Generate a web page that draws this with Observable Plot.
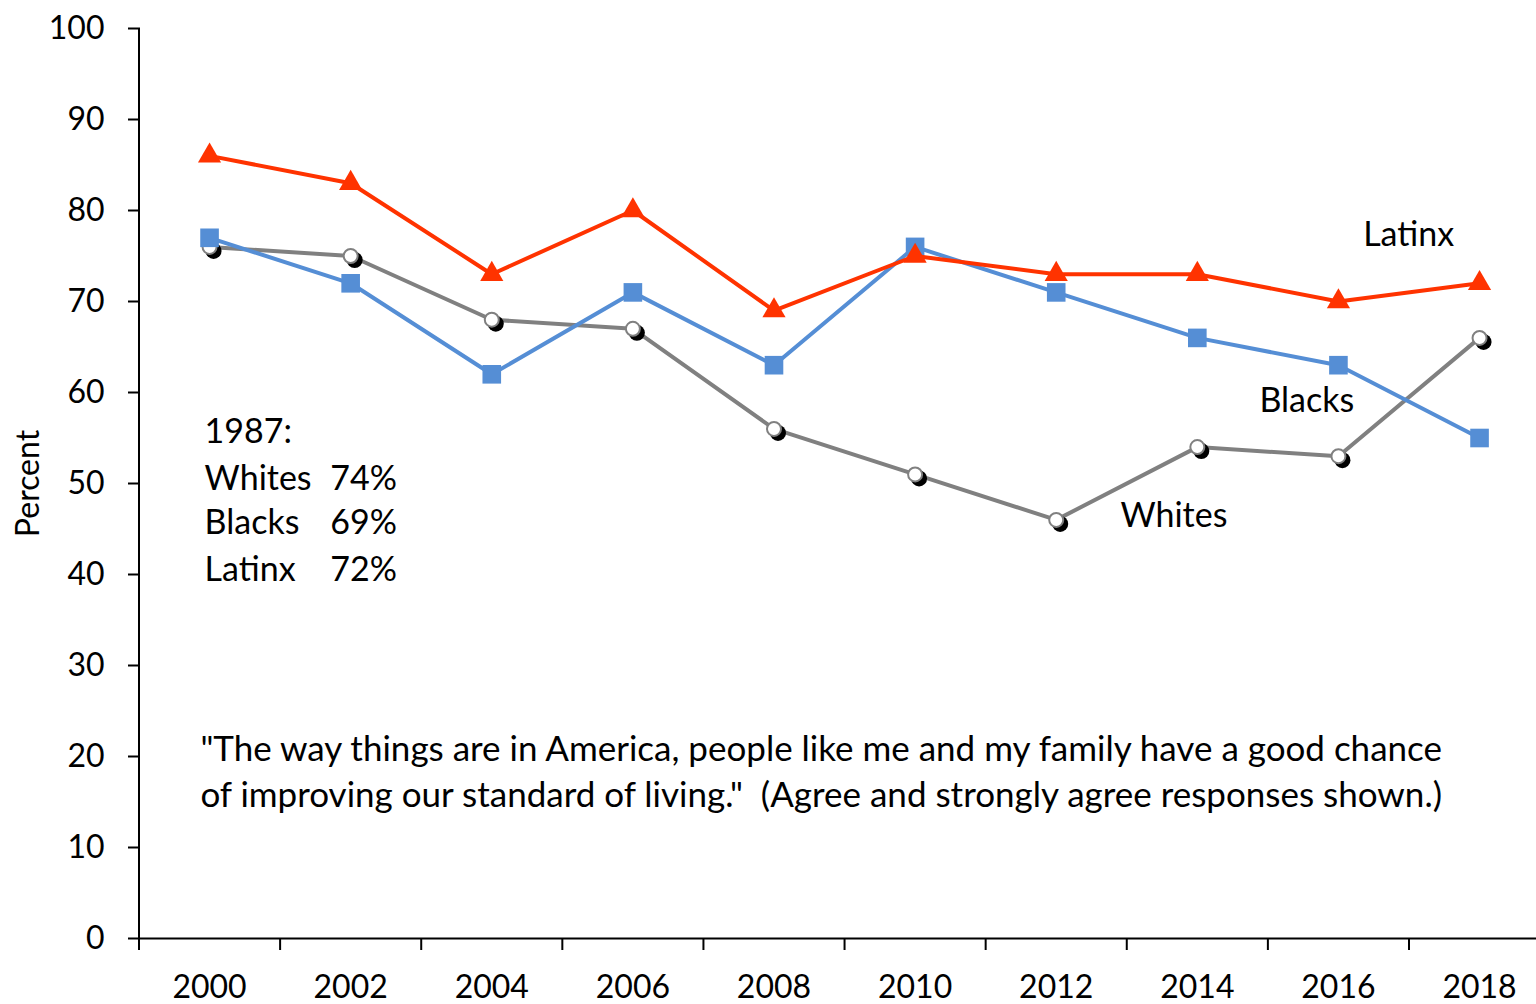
<!DOCTYPE html>
<html>
<head>
<meta charset="utf-8">
<script src="https://cdn.jsdelivr.net/npm/d3@7"></script>
<script src="https://cdn.jsdelivr.net/npm/@observablehq/plot@0.6"></script>
<style>
  html, body { margin: 0; padding: 0; background: #fff; }
  #chart svg { display: block; }
</style>
</head>
<body>
<div id="chart"></div>
<script>
const years = [2000, 2002, 2004, 2006, 2008, 2010, 2012, 2014, 2016, 2018];
const latinx = [86, 83, 73, 80, 69, 75, 73, 73, 70, 72];
const blacks = [77, 72, 62, 71, 63, 76, 71, 66, 63, 55];
const whites = [76, 75, 68, 67, 56, 51, 46, 54, 53, 66];
const yTicks = [0, 10, 20, 30, 40, 50, 60, 70, 80, 90, 100];
const note1987 = ["1987:", "Whites", "Blacks", "Latinx"];
const note1987Pct = ["", "74%", "69%", "72%"];
const quoteLines = [
  "\"The way things are in America, people like me and my family have a good chance",
  "of improving our standard of living.\"  (Agree and strongly agree responses shown.)"
];

const FONT = "Lato, 'Open Sans', sans-serif";
const RED = "#FF3300", BLUE = "#558ED5", GRAY = "#808080";
const FS = 34, FT = 32, FQ = 35;

const rows = (vals) => years.map((y, i) => ({year: y, value: vals[i]}));
const W = rows(whites), B = rows(blacks), L = rows(latinx);
const boundaries = years.map(y => y - 1);

const noteRows = note1987.map((t, i) => ({t, p: note1987Pct[i], v: [55.6, 50.5, 45.6, 40.5][i]}));
const quoteRows = quoteLines.map((t, i) => ({t, v: [20.77, 15.71][i]}));

const chart = Plot.plot({
  width: 1536,
  height: 1004,
  marginLeft: 140,
  marginRight: 0,
  marginTop: 28,
  marginBottom: 66,
  style: {fontFamily: FONT, fontSize: FT + "px", color: "#000", background: "#fff"},
  x: {domain: [1999, 2019], range: [138.5, 1549.6]},
  y: {domain: [0, 100], range: [938, 28]},
  marks: [
    Plot.axisY({ticks: yTicks, tickSize: 12, tickPadding: 24, label: null, fontSize: FT, stroke: "#000", strokeWidth: 2}),
    Plot.axisX({ticks: boundaries, tickSize: 12, tickFormat: () => "", label: null, stroke: "#000", strokeWidth: 2}),
    Plot.axisX({ticks: years, tickSize: 0, tickPadding: 37, tickFormat: d => String(d), label: null, fontSize: FT}),
    Plot.ruleX([1999], {y1: 0, y2: 100, stroke: "#000", strokeWidth: 2}),
    Plot.ruleY([0], {stroke: "#000", strokeWidth: 2}),
    Plot.text(["Percent"], {frameAnchor: "left", textAnchor: "middle", dx: -112, rotate: -90, fontSize: FT, fill: "#000"}),
    // Whites
    Plot.line(W, {x: "year", y: "value", stroke: GRAY, strokeWidth: 4}),
    Plot.dot(W, {x: "year", y: "value", r: 8, fill: "#000", dx: 4, dy: 4}),
    Plot.dot(W, {x: "year", y: "value", r: 7, fill: "#fff", stroke: GRAY, strokeWidth: 2}),
    // Blacks
    Plot.line(B, {x: "year", y: "value", stroke: BLUE, strokeWidth: 4}),
    Plot.dot(B, {x: "year", y: "value", symbol: "square", r: 10.5, fill: BLUE}),
    // Latinx
    Plot.line(L, {x: "year", y: "value", stroke: RED, strokeWidth: 4}),
    Plot.dot(L, {x: "year", y: "value", symbol: "triangle", r: 8.6, fill: RED}),
    // series labels
    Plot.text(["Latinx"], {x: 2016.35, y: 77.25, textAnchor: "start", fontSize: FS, fill: "#000"}),
    Plot.text(["Blacks"], {x: 2014.88, y: 59.0, textAnchor: "start", fontSize: FS, fill: "#000"}),
    Plot.text(["Whites"], {x: 2012.91, y: 46.4, textAnchor: "start", fontSize: FS, fill: "#000"}),
    // 1987 note
    Plot.text(noteRows, {x: 1999.93, y: "v", text: "t", textAnchor: "start", fontSize: FS, fill: "#000"}),
    Plot.text(noteRows, {x: 2001.71, y: "v", text: "p", textAnchor: "start", fontSize: FS, fill: "#000"}),
    // quote
    Plot.text(quoteRows, {x: 1999.87, y: "v", text: "t", textAnchor: "start", fontSize: FQ, fill: "#000"})
  ]
});
document.getElementById("chart").append(chart);
</script>
</body>
</html>
